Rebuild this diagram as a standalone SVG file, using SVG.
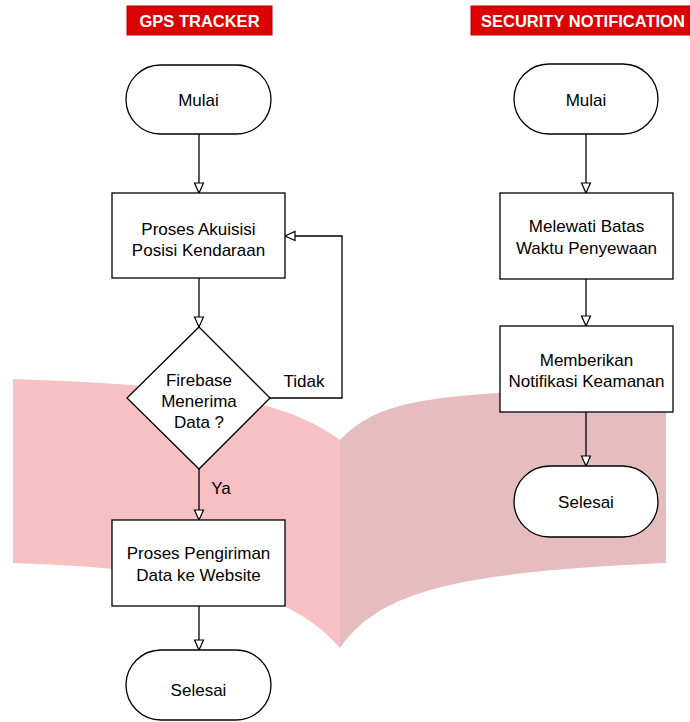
<svg xmlns="http://www.w3.org/2000/svg" width="690" height="722" viewBox="0 0 690 722">
<defs>
<style>
.t{font-family:"Liberation Sans",Arial,sans-serif;font-size:17px;fill:#000;text-anchor:middle}
.title{font-family:"Liberation Sans",Arial,sans-serif;font-size:16.5px;font-weight:bold;fill:#fff;text-anchor:middle}
.shape{fill:#fff;stroke:#000;stroke-width:1.3}
.edge{fill:none;stroke:#000;stroke-width:1.3}
.tb{fill:#dd0000;stroke:#b80000;stroke-width:1}
</style>
<marker id="ah" markerUnits="userSpaceOnUse" markerWidth="14" markerHeight="14" refX="11" refY="6" orient="auto">
<path d="M1,1.5 L11,6 L1,10.5 Z" fill="#fff" stroke="#000" stroke-width="1.2"/>
</marker>
</defs>
<rect width="690" height="722" fill="#fff"/>
<g id="background">
<path d="M13,379 C180,385 280,395 340,440 L340,648 C290,590 200,570 13,563 Z" fill="#f7c0c2"/>
<path d="M340,440 C380,400 420,392 666,387 L666,563 C460,572 380,590 340,648 Z" fill="#e5bdbe"/>
</g>
<g id="title-gps">
<rect class="tb" x="127" y="6" width="145" height="29"/>
<text class="title" x="199.5" y="26.5">GPS TRACKER</text>
</g>
<g id="title-security">
<rect class="tb" x="471" y="6" width="225" height="29"/>
<text class="title" x="481" y="26.5" style="text-anchor:start">SECURITY NOTIFICATION</text>
</g>
<g id="connectors">
<path class="edge" d="M199,134 L199,193" marker-end="url(#ah)"/>
<path class="edge" d="M199,278 L199,327" marker-end="url(#ah)"/>
<path class="edge" d="M270,398 L342,398 L342,236 L285,236" marker-end="url(#ah)"/>
<path class="edge" d="M199,469 L199,520" marker-end="url(#ah)"/>
<path class="edge" d="M199,606 L199,650" marker-end="url(#ah)"/>
<path class="edge" d="M586,134 L586,193" marker-end="url(#ah)"/>
<path class="edge" d="M586,279 L586,326" marker-end="url(#ah)"/>
<path class="edge" d="M586,412 L586,466" marker-end="url(#ah)"/>
<text class="t" x="304" y="387">Tidak</text>
<text class="t" x="221" y="494">Ya</text>
</g>
<g id="mulai-left">
<rect class="shape" x="126" y="65" width="145" height="69" rx="34.5"/>
<text class="t" x="198.5" y="106">Mulai</text>
</g>
<g id="akuisisi">
<rect class="shape" x="112" y="193" width="173" height="85"/>
<text class="t" x="198.5" y="235">Proses Akuisisi</text>
<text class="t" x="198.5" y="256">Posisi Kendaraan</text>
</g>
<g id="firebase">
<path class="shape" d="M199,327 L270,398 L199,469 L127,398 Z"/>
<text class="t" x="199" y="386">Firebase</text>
<text class="t" x="199" y="407">Menerima</text>
<text class="t" x="199" y="428">Data ?</text>
</g>
<g id="pengiriman">
<rect class="shape" x="112" y="520" width="173" height="86"/>
<text class="t" x="198.5" y="559">Proses Pengiriman</text>
<text class="t" x="198.5" y="581">Data ke Website</text>
</g>
<g id="selesai-left">
<rect class="shape" x="126" y="650" width="145" height="70" rx="35"/>
<text class="t" x="198.5" y="696">Selesai</text>
</g>
<g id="mulai-right">
<rect class="shape" x="514" y="64" width="144" height="70" rx="35"/>
<text class="t" x="586" y="106">Mulai</text>
</g>
<g id="melewati">
<rect class="shape" x="500" y="193" width="173" height="86"/>
<text class="t" x="586.5" y="232">Melewati Batas</text>
<text class="t" x="586.5" y="254">Waktu Penyewaan</text>
</g>
<g id="notifikasi">
<rect class="shape" x="500" y="326" width="173" height="86"/>
<text class="t" x="586.5" y="366">Memberikan</text>
<text class="t" x="586.5" y="387">Notifikasi Keamanan</text>
</g>
<g id="selesai-right">
<rect class="shape" x="514" y="466" width="144" height="71" rx="35.5"/>
<text class="t" x="586" y="508">Selesai</text>
</g>
</svg>
